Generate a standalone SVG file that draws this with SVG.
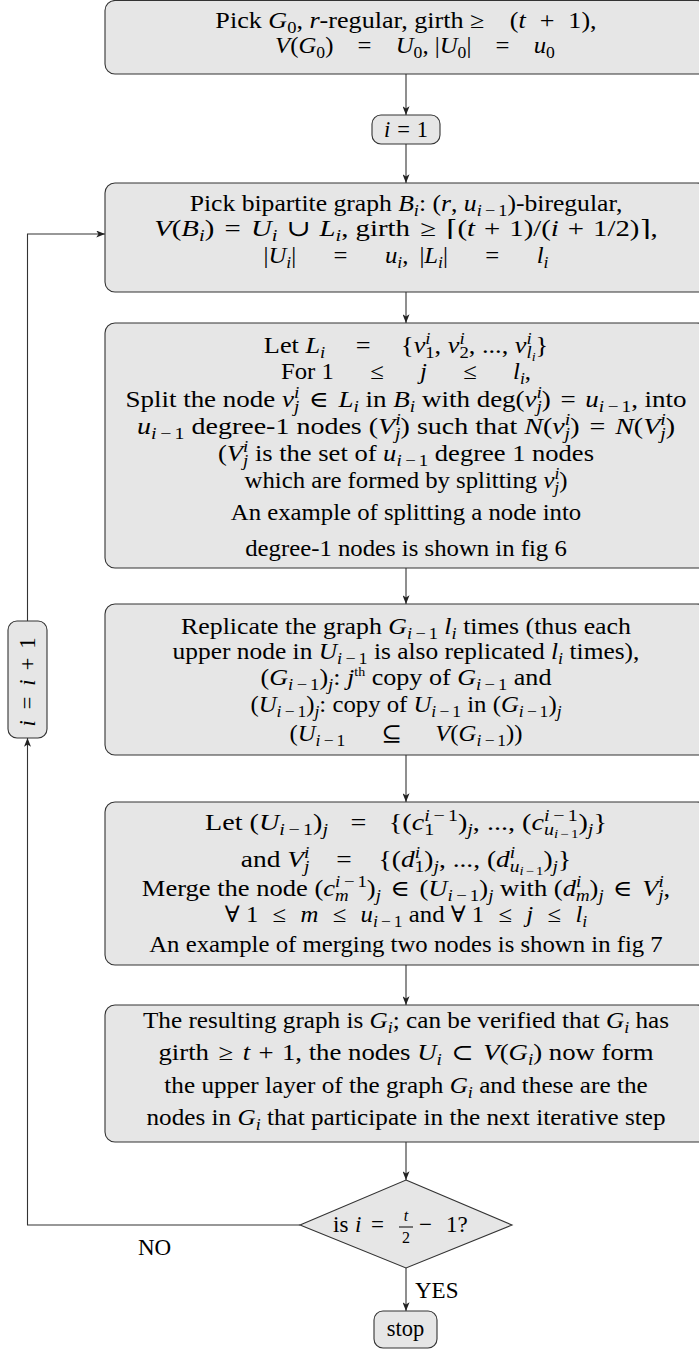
<svg xmlns="http://www.w3.org/2000/svg" width="699" height="1351" viewBox="0 0 699 1351">
<style>
.box{fill:#e6e6e6;stroke:#333;stroke-width:1.1}
.ln{fill:none;stroke:#333;stroke-width:1.1}
.t{font-family:"Liberation Serif","DejaVu Serif",serif;font-size:22.5px;fill:#000;text-anchor:middle}
.i{font-style:italic}
.s{font-size:16px}
.ss{font-size:12px}
.lab{font-family:"Liberation Serif","DejaVu Serif",serif;font-size:23px;fill:#000}
</style>
<defs>
<marker id="ah" viewBox="0 0 10 8" refX="10" refY="4" markerWidth="9" markerHeight="7" markerUnits="userSpaceOnUse" orient="auto">
<path d="M0,0 L10,4 L0,8 L2.5,4 Z" fill="#222"/>
</marker>
</defs>
<rect width="699" height="1351" fill="#fff"/>

<g id="connectors">
<line class="ln" x1="406" y1="74" x2="406" y2="115" marker-end="url(#ah)"/>
<line class="ln" x1="406" y1="144" x2="406" y2="183" marker-end="url(#ah)"/>
<line class="ln" x1="406" y1="292" x2="406" y2="323" marker-end="url(#ah)"/>
<line class="ln" x1="406" y1="568" x2="406" y2="604" marker-end="url(#ah)"/>
<line class="ln" x1="406" y1="755" x2="406" y2="802" marker-end="url(#ah)"/>
<line class="ln" x1="406" y1="965" x2="406" y2="1005" marker-end="url(#ah)"/>
<line class="ln" x1="406" y1="1142" x2="406" y2="1180" marker-end="url(#ah)"/>
<line class="ln" x1="406" y1="1268" x2="406" y2="1311" marker-end="url(#ah)"/>
<polyline class="ln" points="300,1225 27.5,1225 27.5,738" marker-end="url(#ah)"/>
<polyline class="ln" points="27.5,621 27.5,234 105,234" marker-end="url(#ah)"/>
<text class="lab" x="415" y="1298">YES</text>
<text class="lab" x="138" y="1255">NO</text>
</g>

<g id="n0">
<rect class="box" x="105" y="0.5" width="602" height="73.5" rx="10"/>
<g transform="translate(406 0) scale(1.16 1)">
<text class="t" y="28"><tspan>Pick </tspan><tspan class="i">G</tspan><tspan class="s" dy="5">0</tspan><tspan dy="-5">, </tspan><tspan class="i">r</tspan><tspan>-regular, girth ≥</tspan><tspan dx="22">(</tspan><tspan class="i">t</tspan><tspan dx="12">+</tspan><tspan dx="12">1),</tspan></text>
</g>
<g transform="translate(415 0) scale(1.1 1)">
<text class="t" y="53"><tspan class="i">V</tspan><tspan>(</tspan><tspan class="i">G</tspan><tspan class="s" dy="5">0</tspan><tspan dy="-5">)</tspan><tspan dx="22">=</tspan><tspan class="i" dx="22">U</tspan><tspan class="s" dy="5">0</tspan><tspan dy="-5">, |</tspan><tspan class="i">U</tspan><tspan class="s" dy="5">0</tspan><tspan dy="-5">|</tspan><tspan dx="22">=</tspan><tspan class="i" dx="22">u</tspan><tspan class="s" dy="5">0</tspan></text>
</g>
</g>

<g id="n1">
<rect class="box" x="372" y="115" width="68" height="29" rx="9"/>
<text class="t" x="406" y="137"><tspan class="i">i</tspan><tspan dx="7">=</tspan><tspan dx="7">1</tspan></text>
</g>

<g id="n2">
<rect class="box" x="105" y="183" width="602" height="109" rx="10"/>
<g transform="translate(406 0) scale(1.14 1)">
<text class="t" y="211"><tspan>Pick bipartite graph </tspan><tspan class="i">B</tspan><tspan class="s i" dy="5">i</tspan><tspan dy="-5">: (</tspan><tspan class="i">r</tspan><tspan>, </tspan><tspan class="i">u</tspan><tspan class="s" dy="5"><tspan class="i">i</tspan><tspan dx="3">−</tspan><tspan dx="2.5">1</tspan></tspan><tspan dy="-5">)-biregular,</tspan></text>
</g>
<g transform="translate(406 0) scale(1.28 1)">
<text class="t" y="236"><tspan class="i">V</tspan><tspan>(</tspan><tspan class="i">B</tspan><tspan class="s i" dy="5">i</tspan><tspan dy="-5">)</tspan><tspan dx="8">=</tspan><tspan class="i" dx="8">U</tspan><tspan class="s i" dy="5">i</tspan><tspan dy="-5" dx="7">∪</tspan><tspan class="i" dx="7">L</tspan><tspan class="s i" dy="5">i</tspan><tspan dy="-5">, girth</tspan><tspan dx="8">≥</tspan><tspan dx="8">⌈(</tspan><tspan class="i">t</tspan><tspan dx="7">+</tspan><tspan dx="7">1)/(</tspan><tspan class="i">i</tspan><tspan dx="7">+</tspan><tspan dx="7">1/2)⌉,</tspan></text>
</g>
<g transform="translate(406 0) scale(1.1 1)">
<text class="t" y="263"><tspan>|</tspan><tspan class="i">U</tspan><tspan class="s i" dy="5">i</tspan><tspan dy="-5">|</tspan><tspan dx="34">=</tspan><tspan class="i" dx="34">u</tspan><tspan class="s i" dy="5">i</tspan><tspan dy="-5">,</tspan><tspan dx="10">|</tspan><tspan class="i">L</tspan><tspan class="s i" dy="5">i</tspan><tspan dy="-5">|</tspan><tspan dx="34">=</tspan><tspan class="i" dx="34">l</tspan><tspan class="s i" dy="5">i</tspan></text>
</g>
</g>

<g id="n3">
<rect class="box" x="105" y="323" width="602" height="245" rx="10"/>
<g transform="translate(406 0) scale(1.17 1)">
<text class="t" y="353"><tspan>Let </tspan><tspan class="i">L</tspan><tspan class="s i" dy="5">i</tspan><tspan dy="-5" dx="26">=</tspan><tspan dx="26">{</tspan><tspan class="i">v</tspan><tspan class="s i" dy="-9">i</tspan><tspan class="s" dx="-4.5" dy="14">1</tspan><tspan dy="-5">, </tspan><tspan class="i">v</tspan><tspan class="s i" dy="-9">i</tspan><tspan class="s" dx="-4.5" dy="14">2</tspan><tspan dy="-5">, ..., </tspan><tspan class="i">v</tspan><tspan class="s i" dy="-9">i</tspan><tspan class="s i" dx="-4.5" dy="14">l</tspan><tspan class="ss i" dy="3">i</tspan><tspan dy="-8">}</tspan></text>
</g>
<g transform="translate(406 0) scale(1.1 1)">
<text class="t" y="379"><tspan>For 1</tspan><tspan dx="33">≤</tspan><tspan class="i" dx="33">j</tspan><tspan dx="33">≤</tspan><tspan class="i" dx="33">l</tspan><tspan class="s i" dy="5">i</tspan><tspan dy="-5">,</tspan></text>
</g>
<g transform="translate(406 0) scale(1.2 1)">
<text class="t" y="407"><tspan>Split the node </tspan><tspan class="i">v</tspan><tspan class="s i" dy="-9">i</tspan><tspan class="s i" dx="-4.5" dy="14">j</tspan><tspan dy="-5" dx="8">∈</tspan><tspan class="i" dx="8">L</tspan><tspan class="s i" dy="5">i</tspan><tspan dy="-5"> in </tspan><tspan class="i">B</tspan><tspan class="s i" dy="5">i</tspan><tspan dy="-5"> with deg(</tspan><tspan class="i">v</tspan><tspan class="s i" dy="-9">i</tspan><tspan class="s i" dx="-4.5" dy="14">j</tspan><tspan dy="-5">)</tspan><tspan dx="8">=</tspan><tspan class="i" dx="8">u</tspan><tspan class="s" dy="5"><tspan class="i">i</tspan><tspan dx="3">−</tspan><tspan dx="2.5">1</tspan></tspan><tspan dy="-5">, into</tspan></text>
</g>
<g transform="translate(406 0) scale(1.245 1)">
<text class="t" y="434"><tspan class="i">u</tspan><tspan class="s" dy="5"><tspan class="i">i</tspan><tspan dx="3">−</tspan><tspan dx="2.5">1</tspan></tspan><tspan dy="-5"> degree-1 nodes (</tspan><tspan class="i">V</tspan><tspan class="s i" dy="-9">i</tspan><tspan class="s i" dx="-4.5" dy="14">j</tspan><tspan dy="-5">) such that </tspan><tspan class="i">N</tspan><tspan>(</tspan><tspan class="i">v</tspan><tspan class="s i" dy="-9">i</tspan><tspan class="s i" dx="-4.5" dy="14">j</tspan><tspan dy="-5">)</tspan><tspan dx="8">=</tspan><tspan class="i" dx="8">N</tspan><tspan>(</tspan><tspan class="i">V</tspan><tspan class="s i" dy="-9">i</tspan><tspan class="s i" dx="-4.5" dy="14">j</tspan><tspan dy="-5">)</tspan></text>
</g>
<g transform="translate(406 0) scale(1.18 1)">
<text class="t" y="461"><tspan>(</tspan><tspan class="i">V</tspan><tspan class="s i" dy="-9">i</tspan><tspan class="s i" dx="-4.5" dy="14">j</tspan><tspan dy="-5"> is the set of </tspan><tspan class="i">u</tspan><tspan class="s" dy="5"><tspan class="i">i</tspan><tspan dx="3">−</tspan><tspan dx="2.5">1</tspan></tspan><tspan dy="-5"> degree 1 nodes</tspan></text>
</g>
<g transform="translate(406 0) scale(1.1 1)">
<text class="t" y="488"><tspan>which are formed by splitting </tspan><tspan class="i">v</tspan><tspan class="s i" dy="-9">i</tspan><tspan class="s i" dx="-4.5" dy="14">j</tspan><tspan dy="-5">)</tspan></text>
<text class="t" y="520">An example of splitting a node into</text>
<text class="t" y="556">degree-1 nodes is shown in fig 6</text>
</g>
</g>

<g id="n4">
<rect class="box" x="105" y="604" width="602" height="151" rx="10"/>
<g transform="translate(406 0) scale(1.148 1)">
<text class="t" y="634"><tspan>Replicate the graph </tspan><tspan class="i">G</tspan><tspan class="s" dy="5"><tspan class="i">i</tspan><tspan dx="3">−</tspan><tspan dx="2.5">1</tspan></tspan><tspan dy="-5"> </tspan><tspan class="i">l</tspan><tspan class="s i" dy="5">i</tspan><tspan dy="-5"> times (thus each</tspan></text>
</g>
<g transform="translate(406 0) scale(1.13 1)">
<text class="t" y="659"><tspan>upper node in </tspan><tspan class="i">U</tspan><tspan class="s" dy="5"><tspan class="i">i</tspan><tspan dx="3">−</tspan><tspan dx="2.5">1</tspan></tspan><tspan dy="-5"> is also replicated </tspan><tspan class="i">l</tspan><tspan class="s i" dy="5">i</tspan><tspan dy="-5"> times),</tspan></text>
</g>
<g transform="translate(406 0) scale(1.16 1)">
<text class="t" y="685"><tspan>(</tspan><tspan class="i">G</tspan><tspan class="s" dy="5"><tspan class="i">i</tspan><tspan dx="3">−</tspan><tspan dx="2.5">1</tspan></tspan><tspan dy="-5">)</tspan><tspan class="s i" dy="5">j</tspan><tspan dy="-5">: </tspan><tspan class="i">j</tspan><tspan class="ss" dy="-9">th</tspan><tspan dy="9"> copy of </tspan><tspan class="i">G</tspan><tspan class="s" dy="5"><tspan class="i">i</tspan><tspan dx="3">−</tspan><tspan dx="2.5">1</tspan></tspan><tspan dy="-5"> and</tspan></text>
</g>
<g transform="translate(406 0) scale(1.1 1)">
<text class="t" y="712"><tspan>(</tspan><tspan class="i">U</tspan><tspan class="s" dy="5"><tspan class="i">i</tspan><tspan dx="3">−</tspan><tspan dx="2.5">1</tspan></tspan><tspan dy="-5">)</tspan><tspan class="s i" dy="5">j</tspan><tspan dy="-5">: copy of </tspan><tspan class="i">U</tspan><tspan class="s" dy="5"><tspan class="i">i</tspan><tspan dx="3">−</tspan><tspan dx="2.5">1</tspan></tspan><tspan dy="-5"> in (</tspan><tspan class="i">G</tspan><tspan class="s" dy="5"><tspan class="i">i</tspan><tspan dx="3">−</tspan><tspan dx="2.5">1</tspan></tspan><tspan dy="-5">)</tspan><tspan class="s i" dy="5">j</tspan></text>
<text class="t" y="741"><tspan>(</tspan><tspan class="i">U</tspan><tspan class="s" dy="5"><tspan class="i">i</tspan><tspan dx="3">−</tspan><tspan dx="2.5">1</tspan></tspan><tspan dy="-5" dx="33">⊆</tspan><tspan class="i" dx="30">V</tspan><tspan>(</tspan><tspan class="i">G</tspan><tspan class="s" dy="5"><tspan class="i">i</tspan><tspan dx="3">−</tspan><tspan dx="2.5">1</tspan></tspan><tspan dy="-5">))</tspan></text>
</g>
</g>

<g id="n5">
<rect class="box" x="105" y="802" width="602" height="163" rx="10"/>
<g transform="translate(406 0) scale(1.25 1)">
<text class="t" y="830"><tspan>Let (</tspan><tspan class="i">U</tspan><tspan class="s" dy="5"><tspan class="i">i</tspan><tspan dx="3">−</tspan><tspan dx="2.5">1</tspan></tspan><tspan dy="-5">)</tspan><tspan class="s i" dy="5">j</tspan><tspan dy="-5" dx="18">=</tspan><tspan dx="18">{(</tspan><tspan class="i">c</tspan><tspan class="s" dy="-9"><tspan class="i">i</tspan><tspan dx="3">−</tspan><tspan dx="2.5">1</tspan></tspan><tspan class="s" dx="-27" dy="14">1</tspan><tspan dx="19" dy="-5">)</tspan><tspan class="s i" dy="5">j</tspan><tspan dy="-5">, ..., (</tspan><tspan class="i">c</tspan><tspan class="s" dy="-9"><tspan class="i">i</tspan><tspan dx="3">−</tspan><tspan dx="2.5">1</tspan></tspan><tspan class="s i" dx="-27" dy="14">u</tspan><tspan class="ss" dy="3"><tspan class="i">i</tspan><tspan dx="2">−</tspan><tspan dx="1.5">1</tspan></tspan><tspan dy="-8">)</tspan><tspan class="s i" dy="5">j</tspan><tspan dy="-5">}</tspan></text>
</g>
<g transform="translate(406 0) scale(1.22 1)">
<text class="t" y="867"><tspan>and </tspan><tspan class="i">V</tspan><tspan class="s i" dy="-9">i</tspan><tspan class="s i" dx="-4.5" dy="14">j</tspan><tspan dy="-5" dx="22">=</tspan><tspan dx="22">{(</tspan><tspan class="i">d</tspan><tspan class="s i" dy="-9">i</tspan><tspan class="s" dx="-4.5" dy="14">1</tspan><tspan dy="-5">)</tspan><tspan class="s i" dy="5">j</tspan><tspan dy="-5">, ..., (</tspan><tspan class="i">d</tspan><tspan class="s i" dy="-9">i</tspan><tspan class="s i" dx="-4.5" dy="14">u</tspan><tspan class="ss" dy="3"><tspan class="i">i</tspan><tspan dx="2">−</tspan><tspan dx="1.5">1</tspan></tspan><tspan dy="-8">)</tspan><tspan class="s i" dy="5">j</tspan><tspan dy="-5">}</tspan></text>
</g>
<g transform="translate(406 0) scale(1.18 1)">
<text class="t" y="896"><tspan>Merge the node (</tspan><tspan class="i">c</tspan><tspan class="s" dy="-9"><tspan class="i">i</tspan><tspan dx="3">−</tspan><tspan dx="2.5">1</tspan></tspan><tspan class="s i" dx="-27" dy="14">m</tspan><tspan dx="15.4" dy="-5">)</tspan><tspan class="s i" dy="5">j</tspan><tspan dy="-5" dx="8">∈</tspan><tspan dx="8">(</tspan><tspan class="i">U</tspan><tspan class="s" dy="5"><tspan class="i">i</tspan><tspan dx="3">−</tspan><tspan dx="2.5">1</tspan></tspan><tspan dy="-5">)</tspan><tspan class="s i" dy="5">j</tspan><tspan dy="-5"> with (</tspan><tspan class="i">d</tspan><tspan class="s i" dy="-9">i</tspan><tspan class="s i" dx="-4.5" dy="14">m</tspan><tspan dy="-5">)</tspan><tspan class="s i" dy="5">j</tspan><tspan dy="-5" dx="8">∈</tspan><tspan class="i" dx="8">V</tspan><tspan class="s i" dy="-9">i</tspan><tspan class="s i" dx="-4.5" dy="14">j</tspan><tspan dy="-5">,</tspan></text>
</g>
<g transform="translate(406 0) scale(1.1 1)">
<text class="t" y="922"><tspan>∀ 1</tspan><tspan dx="13">≤</tspan><tspan class="i" dx="13">m</tspan><tspan dx="13">≤</tspan><tspan class="i" dx="13">u</tspan><tspan class="s" dy="5"><tspan class="i">i</tspan><tspan dx="3">−</tspan><tspan dx="2.5">1</tspan></tspan><tspan dy="-5"> and ∀ 1</tspan><tspan dx="13">≤</tspan><tspan class="i" dx="13">j</tspan><tspan dx="13">≤</tspan><tspan class="i" dx="13">l</tspan><tspan class="s i" dy="5">i</tspan></text>
<text class="t" y="952">An example of merging two nodes is shown in fig 7</text>
</g>
</g>

<g id="n6">
<rect class="box" x="105" y="1005" width="602" height="137" rx="10"/>
<g transform="translate(406 0) scale(1.12 1)">
<text class="t" y="1028"><tspan>The resulting graph is </tspan><tspan class="i">G</tspan><tspan class="s i" dy="5">i</tspan><tspan dy="-5">; can be verified that </tspan><tspan class="i">G</tspan><tspan class="s i" dy="5">i</tspan><tspan dy="-5"> has</tspan></text>
</g>
<g transform="translate(406 0) scale(1.19 1)">
<text class="t" y="1060"><tspan>girth</tspan><tspan dx="8">≥</tspan><tspan class="i" dx="8">t</tspan><tspan dx="7">+</tspan><tspan dx="7">1, the nodes </tspan><tspan class="i">U</tspan><tspan class="s i" dy="5">i</tspan><tspan dy="-5" dx="8">⊂</tspan><tspan class="i" dx="8">V</tspan><tspan>(</tspan><tspan class="i">G</tspan><tspan class="s i" dy="5">i</tspan><tspan dy="-5">) now form</tspan></text>
</g>
<g transform="translate(406 0) scale(1.12 1)">
<text class="t" y="1093"><tspan>the upper layer of the graph </tspan><tspan class="i">G</tspan><tspan class="s i" dy="5">i</tspan><tspan dy="-5"> and these are the</tspan></text>
<text class="t" y="1125"><tspan>nodes in </tspan><tspan class="i">G</tspan><tspan class="s i" dy="5">i</tspan><tspan dy="-5"> that participate in the next iterative step</tspan></text>
</g>
</g>

<g id="n7">
<polygon class="box" points="406,1180 512,1225 406,1268 300,1225"/>
<text class="lab" x="333" y="1232">is</text>
<text class="lab i" x="355" y="1232">i</text>
<text class="lab" x="371" y="1232">=</text>
<text class="t i s" x="406" y="1221">t</text>
<line x1="399" y1="1227" x2="413" y2="1227" stroke="#000" stroke-width="1"/>
<text class="t s" x="406" y="1243">2</text>
<text class="lab" x="419" y="1232">−</text>
<text class="lab" x="446" y="1232">1?</text>
</g>

<g id="n8">
<rect class="box" x="374" y="1311" width="63" height="37" rx="9"/>
<text class="t" x="405.5" y="1336">stop</text>
</g>

<g id="n9">
<rect class="box" x="8" y="621" width="39" height="117" rx="9"/>
<text class="t" transform="translate(35 682) rotate(-90)"><tspan class="i">i</tspan><tspan dx="11">=</tspan><tspan class="i" dx="11">i</tspan><tspan dx="9">+</tspan><tspan dx="9">1</tspan></text>
</g>
</svg>
